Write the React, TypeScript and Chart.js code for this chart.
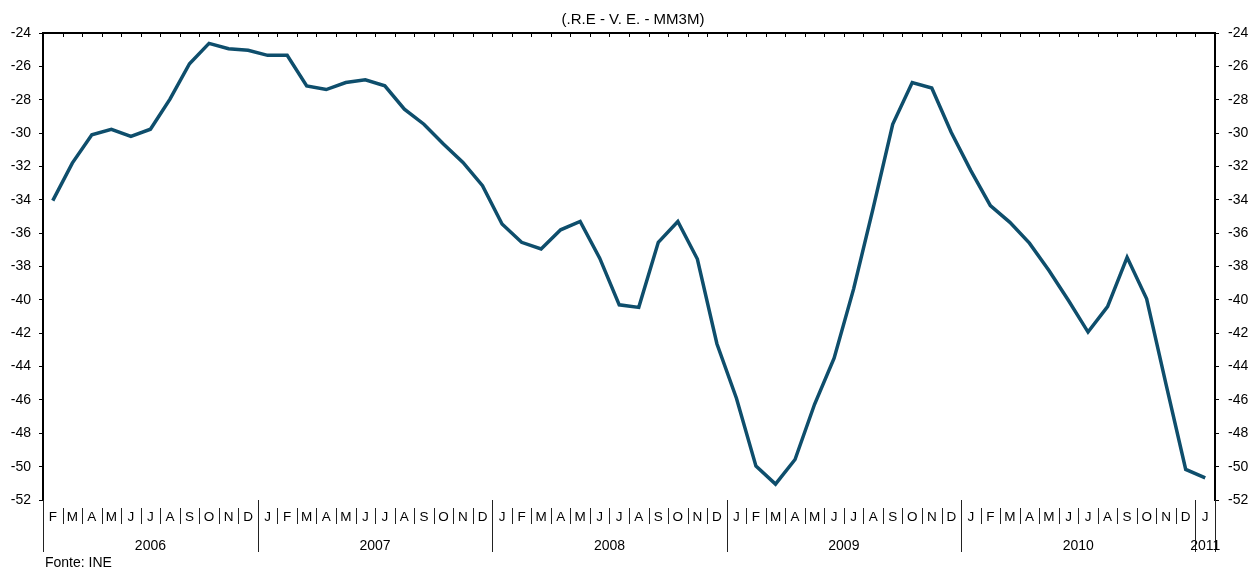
import React, { useEffect, useRef } from "react";
import { Chart, registerables } from "chart.js";

Chart.register(...registerables);

const chartTitle = "(.R.E - V. E. - MM3M)";
const sourceNote = "Fonte: INE";

const monthLabels = [
  "F", "M", "A", "M", "J", "J", "A", "S", "O", "N", "D",
  "J", "F", "M", "A", "M", "J", "J", "A", "S", "O", "N", "D",
  "J", "F", "M", "A", "M", "J", "J", "A", "S", "O", "N", "D",
  "J", "F", "M", "A", "M", "J", "J", "A", "S", "O", "N", "D",
  "J", "F", "M", "A", "M", "J", "J", "A", "S", "O", "N", "D",
  "J",
];

const yearLabels = ["2006", "2007", "2008", "2009", "2010", "2011"];
const monthsPerYear = [11, 12, 12, 12, 12, 1];

const seriesValues = [
  -34.05, -31.8, -30.1, -29.78, -30.2, -29.77, -27.97, -25.84, -24.62, -24.94, -25.04,
  -25.34, -25.34, -27.17, -27.39, -26.97, -26.81, -27.17, -28.57, -29.47, -30.66, -31.76, -33.15,
  -35.45, -36.55, -36.95, -35.8, -35.3, -37.5, -40.3, -40.45, -36.55, -35.3, -37.55, -42.63,
  -45.9, -49.97, -51.05, -49.57, -46.26, -43.5, -39.34, -34.5, -29.47, -26.97, -27.3, -29.97,
  -32.25, -34.35, -35.35, -36.6, -38.24, -40.04, -41.93, -40.4, -37.45, -39.94, -45.1, -50.17,
  -50.67,
];

const yMin = -52;
const yMax = -24;
const yStep = 2;

const FONT = "'Liberation Sans', Arial, Helvetica, sans-serif";
const LINE_COLOR = "#0e4e6c";

export default function App() {
  const ref = useRef<HTMLCanvasElement>(null);

  useEffect(() => {
    document.body.style.margin = "0";
    const canvas = ref.current;
    if (!canvas) return;

    const overlay = {
      id: "overlay",
      afterDraw(chart: any) {
        const { ctx, chartArea, scales } = chart;
        const xs = scales.x;
        const step = xs.getPixelForValue(1) - xs.getPixelForValue(0);
        const bound = (k: number) => xs.getPixelForValue(0) - step / 2 + k * step;
        const bottom = chartArea.bottom;
        ctx.save();

        // top border
        ctx.strokeStyle = "#000";
        ctx.lineWidth = 2;
        ctx.beginPath();
        ctx.moveTo(chartArea.left, chartArea.top);
        ctx.lineTo(chartArea.right, chartArea.top);
        ctx.stroke();

        // top ticks
        ctx.lineWidth = 1;
        for (let k = 1; k < monthLabels.length; k++) {
          const x = Math.round(bound(k)) + 0.5;
          ctx.beginPath();
          ctx.moveTo(x, chartArea.top);
          ctx.lineTo(x, chartArea.top + 4);
          ctx.stroke();
        }

        // year boundaries
        const yearStarts: number[] = [0];
        monthsPerYear.forEach((n, i) => yearStarts.push(yearStarts[i] + n));
        const isYearBound = (k: number) => yearStarts.indexOf(k) >= 0;

        // month separators
        ctx.strokeStyle = "#222";
        ctx.lineWidth = 1;
        for (let k = 0; k <= monthLabels.length; k++) {
          const x = Math.round(bound(k)) + 0.5;
          const yb = isYearBound(k) ? bottom + 52 : bottom + 24;
          ctx.beginPath();
          ctx.moveTo(x, bottom + (isYearBound(k) ? 0 : 8));
          ctx.lineTo(x, yb);
          ctx.stroke();
        }

        // month labels
        ctx.fillStyle = "#000";
        ctx.font = `13.5px ${FONT}`;
        ctx.textAlign = "center";
        ctx.textBaseline = "middle";
        monthLabels.forEach((m, i) => {
          ctx.fillText(m, xs.getPixelForValue(i), bottom + 17);
        });

        // year labels
        ctx.font = `14px ${FONT}`;
        yearLabels.forEach((y, i) => {
          const cx = (bound(yearStarts[i]) + bound(yearStarts[i + 1])) / 2;
          ctx.fillText(y, cx, bottom + 46);
        });

        // source
        ctx.textAlign = "left";
        ctx.fillText(sourceNote, chartArea.left + 2, bottom + 63);

        // title
        ctx.font = `15px ${FONT}`;
        ctx.textAlign = "center";
        ctx.fillText(chartTitle, (chartArea.left + chartArea.right) / 2 + 4, 20);

        ctx.restore();
      },
    };

    const yAxisCommon = (position: "left" | "right", width: number, pad: number) => ({
      type: "linear" as const,
      position,
      min: yMin,
      max: yMax,
      afterFit: (s: any) => {
        s.width = width;
      },
      ticks: {
        stepSize: yStep,
        color: "#000",
        padding: pad,
        font: { family: FONT, size: 14 },
      },
      grid: {
        drawOnChartArea: false,
        drawTicks: true,
        tickLength: 4,
        color: "#000",
      },
      border: { display: true, color: "#000", width: 2 },
    });

    const chart = new Chart(canvas, {
      type: "line",
      data: {
        labels: monthLabels.map((m, i) => `${m}${i}`),
        datasets: [
          {
            data: seriesValues,
            borderColor: LINE_COLOR,
            backgroundColor: LINE_COLOR,
            borderWidth: 3.5,
            pointRadius: 0,
            tension: 0,
            fill: false,
          },
        ],
      },
      options: {
        responsive: false,
        animation: false,
        layout: { padding: { top: 33, bottom: 70, left: 0, right: 0 } },
        plugins: {
          legend: { display: false },
          tooltip: { enabled: false },
          title: { display: false },
        },
        scales: {
          x: {
            type: "category",
            display: false,
            offset: true,
          },
          y: yAxisCommon("left", 43, 8),
          y2: yAxisCommon("right", 38, 9),
        },
      },
      plugins: [overlay],
    });

    return () => chart.destroy();
  }, []);

  return (
    <div style={{ position: "relative", width: 1253, height: 570 }}>
      <canvas ref={ref} width={1253} height={570} style={{ display: "block" }} />
    </div>
  );
}
